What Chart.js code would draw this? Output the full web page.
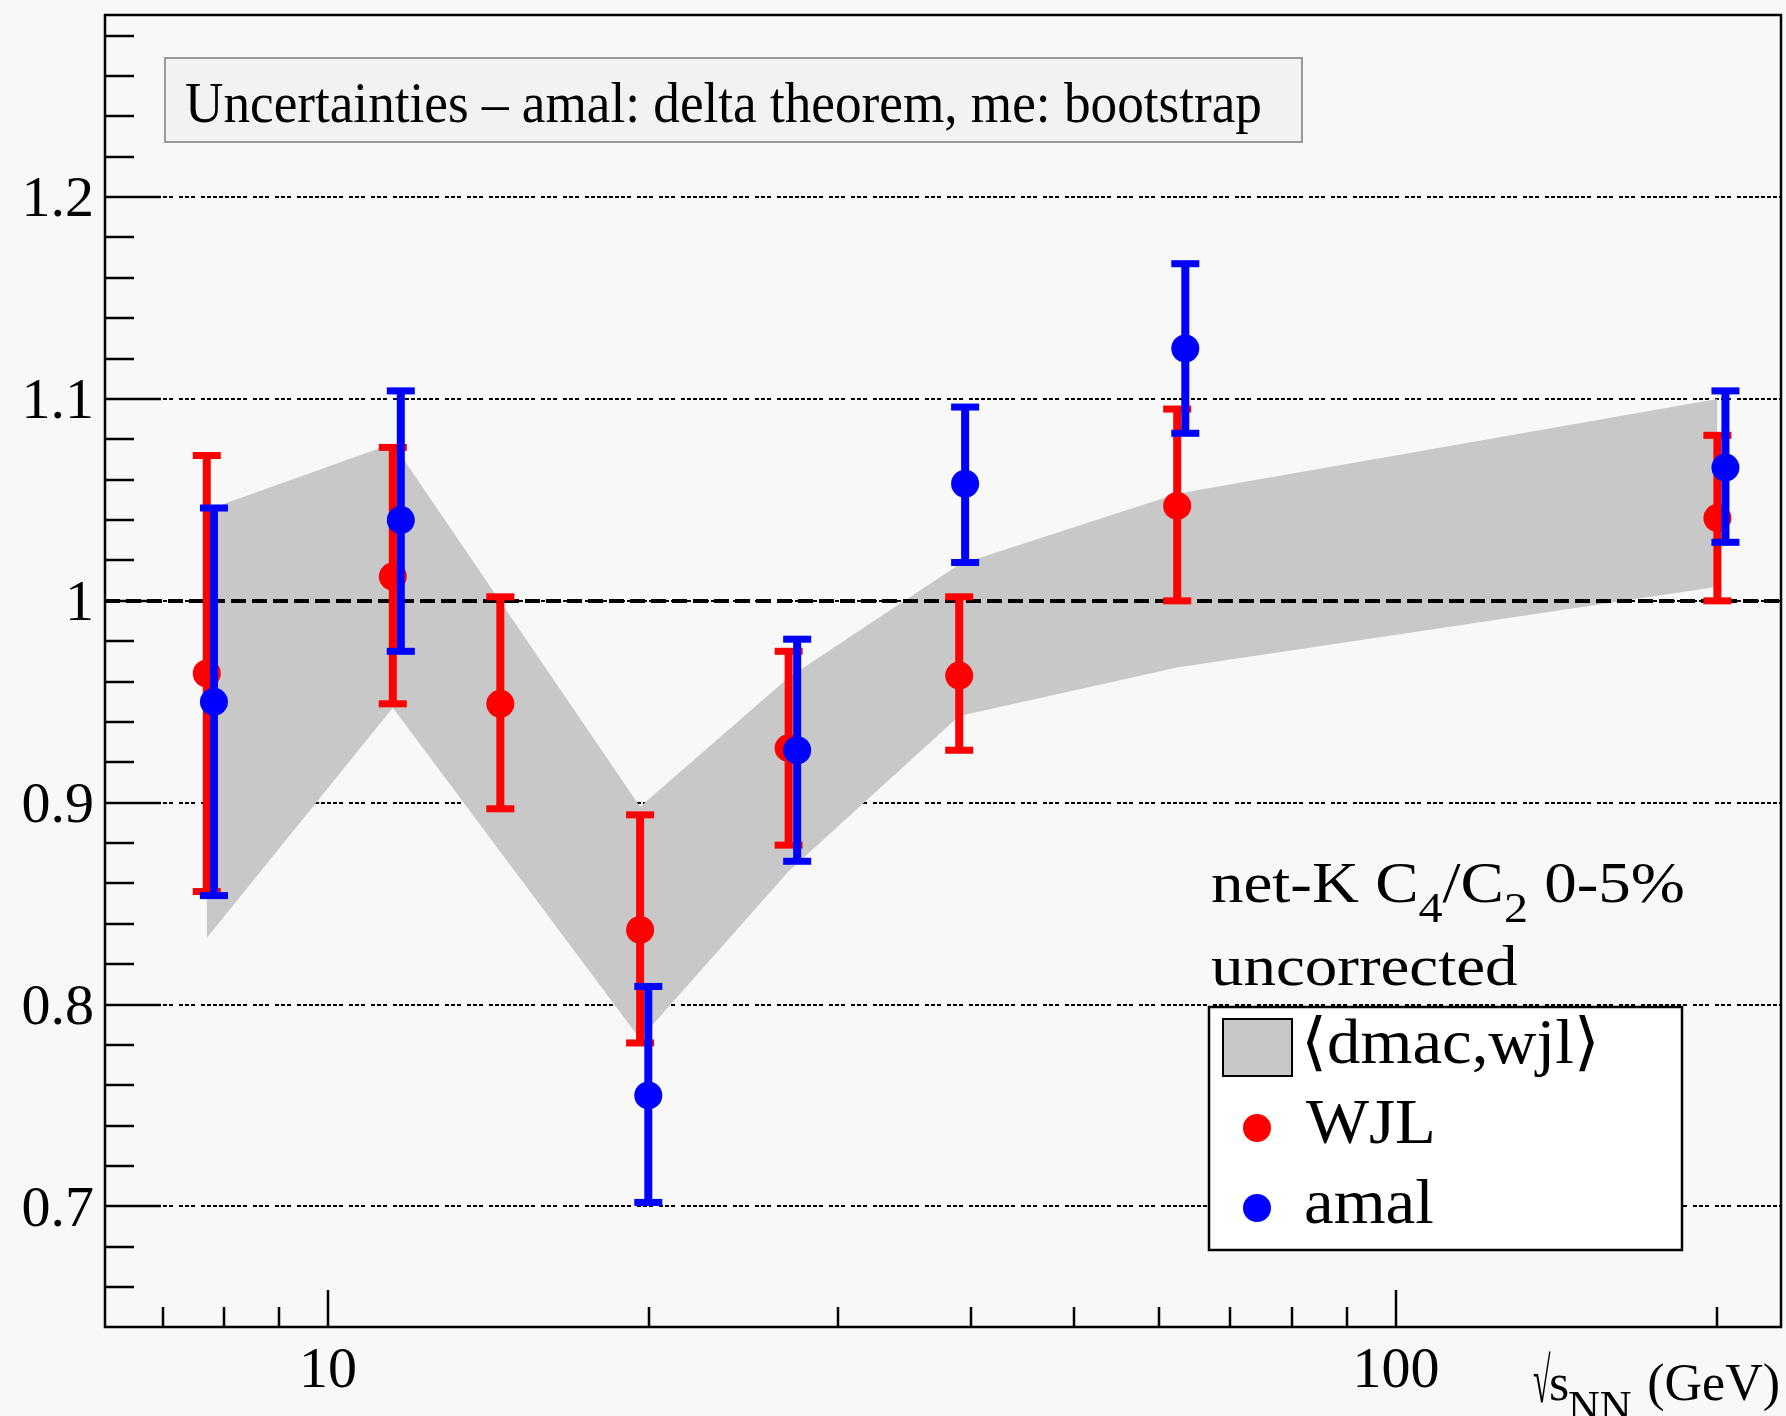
<!DOCTYPE html>
<html>
<head>
<meta charset="utf-8">
<script src="https://cdn.jsdelivr.net/npm/chart.js@4.4.0/dist/chart.umd.min.js"></script>
<style>
  html, body { margin: 0; padding: 0; background: #f8f8f8; overflow: hidden; }
  canvas { display: block; }
</style>
</head>
<body>
<canvas id="c" width="1786" height="1416"></canvas>
<script>
// ---- data ----
// WJL (red)
const wjlEnergy = [7.7, 11.5, 14.5, 19.6, 27, 39, 62.4, 200];
const wjlValue  = [0.964, 1.012, 0.949, 0.837, 0.927, 0.963, 1.047, 1.041];
const wjlLow    = [0.856, 0.949, 0.897, 0.781, 0.879, 0.926, 1.000, 1.000];
const wjlHigh   = [1.072, 1.076, 1.002, 0.894, 0.975, 1.002, 1.095, 1.082];

// amal (blue), drawn slightly offset in energy
const amalEnergy = [7.82, 11.7, 19.95, 27.5, 39.5, 63.5, 203.5];
const amalValue  = [0.950, 1.040, 0.755, 0.926, 1.058, 1.125, 1.066];
const amalLow    = [0.854, 0.975, 0.702, 0.871, 1.019, 1.083, 1.029];
const amalHigh   = [1.046, 1.104, 0.809, 0.981, 1.096, 1.167, 1.104];

// <dmac,wjl> band
const bandEnergy = [7.7, 11.5, 19.6, 27, 39, 62.4, 200];
const bandUpper  = [1.045, 1.078, 0.898, 0.962, 1.018, 1.053, 1.100];
const bandLower  = [0.833, 0.947, 0.783, 0.866, 0.943, 0.967, 1.007];

// axes
const xMajorTicks = [10, 100];
const xLabels     = ['10', '100'];
const xMinorTicks = [7, 8, 9, 20, 30, 40, 50, 60, 70, 80, 90, 200];
const yMajorTicks = [0.7, 0.8, 0.9, 1.0, 1.1, 1.2];
const yLabels     = ['0.7', '0.8', '0.9', '1', '1.1', '1.2'];

const SERIF = '"Liberation Serif", "Times New Roman", "DejaVu Serif", serif';
const RED = '#ff0000';
const BLUE = '#0000ff';
const GREY = '#c8c8c8';

// grid pattern: groups of fine dots, long - short - short
function dottedGroup(len) {
    const out = [];
    for (let i = 0; i < Math.round(len / 6); i++) out.push(4, 2);
    out[out.length - 1] = 6;
    return out;
}
const GRID_DASH = [].concat(dottedGroup(48), dottedGroup(18), dottedGroup(18));

function pts(xs, ys) {
    return xs.map((x, i) => ({ x: x, y: ys[i] }));
}

function drawErrorBars(chart, xs, lows, highs, color) {
    const ctx = chart.ctx;
    const xs_ = chart.scales.x, ys_ = chart.scales.y;
    ctx.save();
    ctx.strokeStyle = color;
    ctx.fillStyle = color;
    ctx.lineWidth = 8;
    xs.forEach((e, i) => {
        const px = xs_.getPixelForValue(e);
        const top = ys_.getPixelForValue(highs[i]);
        const bot = ys_.getPixelForValue(lows[i]);
        ctx.beginPath();
        ctx.moveTo(px, top);
        ctx.lineTo(px, bot);
        ctx.stroke();
        ctx.fillRect(px - 14, top - 3.5, 28, 7);
        ctx.fillRect(px - 14, bot - 3.5, 28, 7);
    });
    ctx.restore();
}

// text with optional horizontal stretch, returns advance
function putText(ctx, text, x, y, size, sx) {
    ctx.save();
    ctx.font = size + 'px ' + SERIF;
    ctx.translate(x, y);
    ctx.scale(sx, 1);
    ctx.fillText(text, 0, 0);
    const w = ctx.measureText(text).width * sx;
    ctx.restore();
    return w;
}

// pieces of text, some of them subscripts
function richText(ctx, x, y, parts, size, subSize, subShift, sx) {
    parts.forEach(p => {
        x += putText(ctx, p.t, x, p.sub ? y + subShift : y, p.sub ? subSize : size, sx);
    });
    return x;
}

const rootStyle = {
    id: 'rootStyle',
    beforeDraw(chart) {
        const ctx = chart.ctx;
        ctx.save();
        ctx.fillStyle = '#f8f8f8';
        ctx.fillRect(0, 0, chart.width, chart.height);
        ctx.restore();
    },
    beforeDatasetsDraw(chart) {
        // dotted grid at the labelled y values
        const { ctx, chartArea: a } = chart;
        const y = chart.scales.y;
        ctx.save();
        ctx.strokeStyle = '#000';
        ctx.lineWidth = 2;
        ctx.setLineDash(GRID_DASH);
        yMajorTicks.forEach(v => {
            const py = Math.round(y.getPixelForValue(v));
            ctx.beginPath();
            ctx.moveTo(a.left, py);
            ctx.lineTo(a.right, py);
            ctx.stroke();
        });
        ctx.restore();
    },
    beforeDatasetDraw(chart, args) {
        const { ctx, chartArea: a } = chart;
        if (args.index === 2) {
            // reference line at 1, over the band
            const py = Math.round(chart.scales.y.getPixelForValue(1));
            ctx.save();
            ctx.strokeStyle = '#000';
            ctx.lineWidth = 4;
            ctx.setLineDash([15, 6]);
            ctx.beginPath();
            ctx.moveTo(a.left, py);
            ctx.lineTo(a.right, py);
            ctx.stroke();
            ctx.restore();
            drawErrorBars(chart, wjlEnergy, wjlLow, wjlHigh, RED);
        }
        if (args.index === 3) {
            drawErrorBars(chart, amalEnergy, amalLow, amalHigh, BLUE);
        }
    },
    afterDatasetsDraw(chart) {
        const { ctx, chartArea: a } = chart;
        const x = chart.scales.x, y = chart.scales.y;
        ctx.save();
        ctx.strokeStyle = '#000';
        ctx.lineWidth = 2.5;
        // y ticks (inside), minor every 0.02
        for (let k = 33; k <= 64; k++) {
            const len = (k % 5 === 0) ? 56 : 29;
            const py = Math.round(y.getPixelForValue(k / 50));
            ctx.beginPath();
            ctx.moveTo(a.left, py);
            ctx.lineTo(a.left + len, py);
            ctx.stroke();
        }
        // x ticks (inside)
        xMinorTicks.forEach(v => {
            const px = Math.round(x.getPixelForValue(v));
            ctx.beginPath();
            ctx.moveTo(px, a.bottom);
            ctx.lineTo(px, a.bottom - 20);
            ctx.stroke();
        });
        xMajorTicks.forEach(v => {
            const px = Math.round(x.getPixelForValue(v));
            ctx.beginPath();
            ctx.moveTo(px, a.bottom);
            ctx.lineTo(px, a.bottom - 37);
            ctx.stroke();
        });
        ctx.strokeRect(a.left, a.top, a.right - a.left, a.bottom - a.top);
        ctx.restore();
    },
    afterDraw(chart) {
        const ctx = chart.ctx;
        ctx.save();
        ctx.textBaseline = 'alphabetic';
        ctx.textAlign = 'left';

        // title box
        ctx.fillStyle = '#f2f2f2';
        ctx.fillRect(165, 58, 1137, 84);
        ctx.strokeStyle = '#999';
        ctx.lineWidth = 2;
        ctx.strokeRect(165, 58, 1137, 84);
        ctx.fillStyle = '#000';
        putText(ctx, 'Uncertainties \u2013 amal: delta theorem, me: bootstrap', 185, 122, 56, 0.95);

        // label
        richText(ctx, 1211, 902, [
            { t: 'net-K C' }, { t: '4', sub: true }, { t: '/C' }, { t: '2', sub: true }, { t: ' 0-5%' }
        ], 58, 43, 20, 1.12);
        putText(ctx, 'uncorrected', 1211, 985, 58, 1.12);

        // legend
        ctx.fillStyle = '#fff';
        ctx.fillRect(1209, 1007, 473, 243);
        ctx.strokeStyle = '#000';
        ctx.lineWidth = 2.5;
        ctx.strokeRect(1209, 1007, 473, 243);
        ctx.fillStyle = GREY;
        ctx.fillRect(1223, 1019, 69, 57);
        ctx.lineWidth = 2;
        ctx.strokeRect(1223, 1019, 69, 57);
        ctx.fillStyle = RED;
        ctx.beginPath(); ctx.arc(1257, 1128, 14, 0, Math.PI * 2); ctx.fill();
        ctx.fillStyle = BLUE;
        ctx.beginPath(); ctx.arc(1257, 1208, 14, 0, Math.PI * 2); ctx.fill();
        ctx.fillStyle = '#000';
        putText(ctx, '\u27E8dmac,wjl\u27E9', 1301, 1063, 63, 1.06);
        putText(ctx, 'WJL', 1306, 1143, 63, 1.06);
        putText(ctx, 'amal', 1304, 1223, 63, 1.06);

        // x axis title: sqrt(s_NN) (GeV)
        putText(ctx, '\u221A', 1533, 1402, 64, 0.5);
        putText(ctx, 's', 1549, 1400, 52, 1);
        putText(ctx, 'NN', 1568, 1421, 44, 1);
        ctx.textAlign = 'right';
        ctx.font = '52px ' + SERIF;
        ctx.fillText('(GeV)', 1780, 1400);
        ctx.restore();
    }
};

function noPadding(s) {
    s.paddingTop = 0;
    s.paddingBottom = 0;
    s.paddingLeft = 0;
    s.paddingRight = 0;
}

new Chart(document.getElementById('c'), {
    type: 'line',
    data: {
        datasets: [
            {
                label: 'band upper',
                data: pts(bandEnergy, bandUpper),
                borderColor: 'rgba(0,0,0,0)',
                borderWidth: 0,
                pointRadius: 0,
                fill: false,
                order: 3
            },
            {
                label: '\u27E8dmac,wjl\u27E9',
                data: pts(bandEnergy, bandLower),
                borderColor: 'rgba(0,0,0,0)',
                borderWidth: 0,
                pointRadius: 0,
                backgroundColor: GREY,
                fill: '-1',
                order: 3
            },
            {
                label: 'WJL',
                data: pts(wjlEnergy, wjlValue),
                showLine: false,
                pointRadius: 14,
                pointBackgroundColor: RED,
                pointBorderColor: RED,
                pointBorderWidth: 0,
                order: 2
            },
            {
                label: 'amal',
                data: pts(amalEnergy, amalValue),
                showLine: false,
                pointRadius: 14,
                pointBackgroundColor: BLUE,
                pointBorderColor: BLUE,
                pointBorderWidth: 0,
                order: 1
            }
        ]
    },
    options: {
        responsive: false,
        animation: false,
        events: [],
        layout: { autoPadding: false, padding: { top: 15, right: 5, left: 0, bottom: 0 } },
        plugins: {
            legend: { display: false },
            tooltip: { enabled: false }
        },
        scales: {
            x: {
                type: 'logarithmic',
                min: 6.183,
                max: 229.4,
                afterFit: s => { s.height = 89; noPadding(s); },
                afterBuildTicks: s => { s.ticks = xMajorTicks.map(v => ({ value: v })); },
                ticks: {
                    autoSkip: false,
                    maxRotation: 0,
                    padding: 10,
                    color: '#000',
                    font: { family: SERIF, size: 58 },
                    callback: (v, i) => xLabels[i]
                },
                grid: { display: false, drawTicks: false },
                border: { display: false }
            },
            y: {
                min: 0.6403,
                max: 1.2902,
                afterFit: s => { s.width = 105; noPadding(s); },
                afterBuildTicks: s => { s.ticks = yMajorTicks.map(v => ({ value: v })); },
                ticks: {
                    autoSkip: false,
                    padding: 11,
                    labelOffset: 4,
                    color: '#000',
                    font: { family: SERIF, size: 58 },
                    callback: (v, i) => yLabels[i]
                },
                grid: { display: false, drawTicks: false },
                border: { display: false }
            }
        }
    },
    plugins: [rootStyle]
});
</script>
</body>
</html>
